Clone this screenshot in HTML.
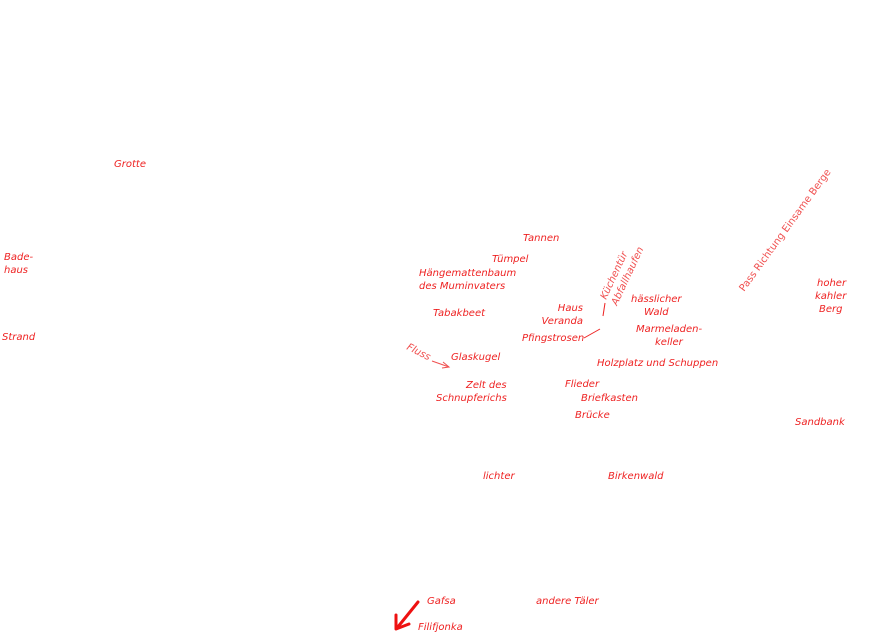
<!DOCTYPE html>
<html><head><meta charset="utf-8"><style>
html,body{margin:0;padding:0;background:#fff;width:877px;height:638px;overflow:hidden}
svg text{font-family:"DejaVu Sans","Liberation Sans",sans-serif;font-size:10px;font-style:italic;fill:#ee2222}
</style></head><body>
<svg width="877" height="638" xmlns="http://www.w3.org/2000/svg">
<text x="114" y="167">Grotte</text>
<text x="4" y="260">Bade-</text>
<text x="4" y="273">haus</text>
<text x="2" y="340">Strand</text>
<text x="523" y="241">Tannen</text>
<text x="492" y="262">Tümpel</text>
<text x="419" y="276">Hängemattenbaum</text>
<text x="419" y="289">des Muminvaters</text>
<text x="433" y="316">Tabakbeet</text>
<text x="583" y="311" text-anchor="end">Haus</text>
<text x="583" y="324" text-anchor="end">Veranda</text>
<text x="522" y="341">Pfingstrosen</text>
<text x="631" y="302">hässlicher</text>
<text x="644" y="315">Wald</text>
<text x="636" y="332">Marmeladen-</text>
<text x="655" y="345">keller</text>
<text x="597" y="366">Holzplatz und Schuppen</text>
<text x="451" y="360">Glaskugel</text>
<text x="466" y="388">Zelt des</text>
<text x="436" y="401">Schnupferichs</text>
<text x="565" y="387">Flieder</text>
<text x="581" y="401">Briefkasten</text>
<text x="575" y="418">Brücke</text>
<text x="483" y="479">lichter</text>
<text x="608" y="479">Birkenwald</text>
<text x="817" y="286">hoher</text>
<text x="815" y="299">kahler</text>
<text x="819" y="312">Berg</text>
<text x="795" y="425">Sandbank</text>
<text x="427" y="604">Gafsa</text>
<text x="536" y="604">andere Täler</text>
<text x="418" y="630">Filifjonka</text>
<text transform="translate(406,349) rotate(27)" style="fill:#f05050">Fluss</text>
<line x1="432" y1="361" x2="449" y2="367" stroke="#f05050" stroke-width="1"/>
<polyline points="443,362 449,367 442,368" fill="none" stroke="#f05050" stroke-width="1"/>
<text transform="translate(606,300) rotate(-65)" style="fill:#f05050">Küchentür</text>
<text transform="translate(617,306) rotate(-65)" style="fill:#f05050">Abfallhaufen</text>
<line x1="605" y1="303" x2="603" y2="316" stroke="#ee2222" stroke-width="1"/>
<line x1="584" y1="338" x2="600" y2="329" stroke="#ee2222" stroke-width="1"/>
<text transform="translate(744,292) rotate(-54)" style="font-style:normal;fill:#f05050">Pass Richtung Einsame Berge</text>
<line x1="418" y1="602" x2="397" y2="628" stroke="#ee1111" stroke-width="3" stroke-linecap="round"/>
<polyline points="396,615 396,629 409,624" fill="none" stroke="#ee1111" stroke-width="3" stroke-linecap="round" stroke-linejoin="round"/>
</svg>
</body></html>
